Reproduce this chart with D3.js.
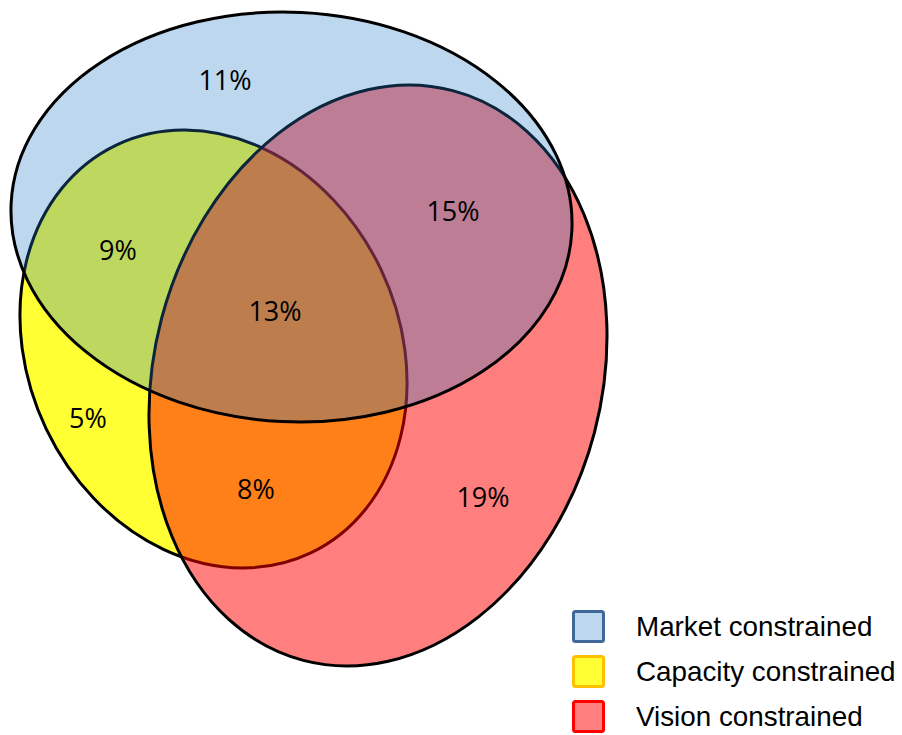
<!DOCTYPE html>
<html>
<head>
<meta charset="utf-8">
<script src="https://cdn.jsdelivr.net/npm/d3@7"></script>
<style>
  html, body { margin: 0; padding: 0; background: #ffffff; }
  svg { display: block; }
</style>
</head>
<body>
<svg id="chart" width="902" height="735"></svg>
<script>
// ---------- data ----------
const setNames = ["Market constrained", "Capacity constrained", "Vision constrained"];
const regionNames = ["Market only", "Market & Capacity", "Market & Capacity & Vision",
                     "Market & Vision", "Capacity only", "Capacity & Vision", "Vision only"];
const regionValues = [11, 9, 13, 15, 5, 8, 19];

// ---------- layout (geometry / styling, not data) ----------
const ellipseLayout = {
  "Capacity constrained": { cx: 213.5, cy: 349, rx: 185.4, ry: 225.9, rot: -25.5 },
  "Vision constrained":   { cx: 378,   cy: 375.5, rx: 223.8, ry: 294.5, rot: 14.7 },
  "Market constrained":   { cx: 291.5, cy: 217, rx: 280.7, ry: 204.8, rot: 2.8 }
};
const drawOrder = ["Capacity constrained", "Vision constrained", "Market constrained"];
const fillColor = d3.scaleOrdinal().domain(setNames)
  .range(["rgb(35,122,198)", "rgb(255,255,51)", "rgb(255,0,0)"]);
const fillOpacity = d3.scaleOrdinal().domain(setNames).range([0.3, 1, 0.5]);
const legendFill = d3.scaleOrdinal().domain(setNames).range(["#BDD7EE", "#FFFF33", "#FF7F7F"]);
const legendStroke = d3.scaleOrdinal().domain(setNames).range(["#41689A", "#FFC000", "#FF0000"]);
const labelAnchor = {
  "Market only": [225, 80],
  "Market & Capacity": [118, 250],
  "Market & Capacity & Vision": [275, 311],
  "Market & Vision": [453, 211],
  "Capacity only": [88, 418],
  "Capacity & Vision": [256, 489],
  "Vision only": [483, 497]
};

const svg = d3.select("#chart");

// ellipses
svg.append("g").selectAll("ellipse")
  .data(drawOrder)
  .join("ellipse")
  .attr("cx", 0).attr("cy", 0)
  .attr("rx", d => ellipseLayout[d].rx)
  .attr("ry", d => ellipseLayout[d].ry)
  .attr("transform", d => `translate(${ellipseLayout[d].cx},${ellipseLayout[d].cy}) rotate(${ellipseLayout[d].rot})`)
  .attr("fill", d => fillColor(d))
  .attr("fill-opacity", d => fillOpacity(d))
  .attr("stroke", "#000")
  .attr("stroke-width", 3);

// region labels
svg.append("g").selectAll("text")
  .data(regionNames.map((n, i) => ({ name: n, value: regionValues[i] })))
  .join("text")
  .attr("x", d => labelAnchor[d.name][0])
  .attr("y", d => labelAnchor[d.name][1] + 9.8)
  .attr("text-anchor", "middle")
  .attr("font-family", "'Open Sans', sans-serif")
  .attr("font-size", 27)
  .attr("fill", "#000")
  .text(d => d.value + "%");

// legend
const legendY = d3.scalePoint().domain(setNames).range([626, 716]);
const lg = svg.append("g").selectAll("g")
  .data(setNames)
  .join("g")
  .attr("transform", d => `translate(0,${legendY(d)})`);
lg.append("rect")
  .attr("x", 573.5).attr("y", -14.5)
  .attr("width", 30).attr("height", 30)
  .attr("rx", 2)
  .attr("fill", d => legendFill(d))
  .attr("stroke", d => legendStroke(d))
  .attr("stroke-width", 3);
lg.append("text")
  .attr("x", 636).attr("y", 10)
  .attr("font-family", "'Liberation Sans', Arial, sans-serif")
  .attr("font-size", 27.8)
  .attr("fill", "#000")
  .text(d => d);
</script>
</body>
</html>
